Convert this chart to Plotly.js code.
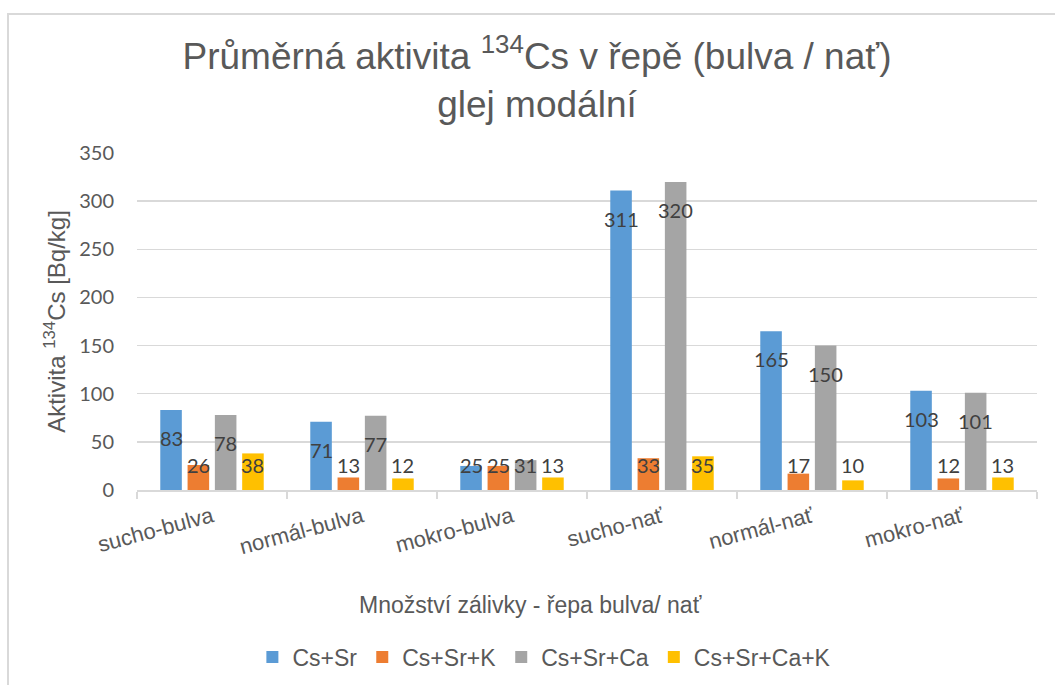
<!DOCTYPE html>
<html>
<head>
<meta charset="utf-8">
<script src="https://cdn.plot.ly/plotly-3.0.1.min.js"></script>
<style>
  html, body { margin: 0; padding: 0; background: #ffffff; }
  #chart { position: absolute; left: 0; top: 0; width: 1055px; height: 685px; }
  #frame { position: absolute; left: 7px; top: 13px; width: 1048px; height: 672px;
           border-top: 2px solid #D9D9D9; border-left: 2px solid #D9D9D9;
           box-sizing: border-box; pointer-events: none; }
</style>
</head>
<body>
<div id="chart"></div>
<div id="frame"></div>
<script>
// ---- data ----
const categories = ["sucho-bulva", "normál-bulva", "mokro-bulva", "sucho-nať", "normál-nať", "mokro-nať"];
const seriesNames = ["Cs+Sr", "Cs+Sr+K", "Cs+Sr+Ca", "Cs+Sr+Ca+K"];
const csSr     = [83, 71, 25, 311, 165, 103];
const csSrK    = [26, 13, 25, 33, 17, 12];
const csSrCa   = [78, 77, 31, 320, 150, 101];
const csSrCaK  = [38, 12, 13, 35, 10, 13];
const yTicks   = [0, 50, 100, 150, 200, 250, 300, 350];

const seriesValues = [csSr, csSrK, csSrCa, csSrCaK];
const colors = ["#5B9BD5", "#ED7D31", "#A5A5A5", "#FFC000"];

const ARIAL = "Liberation Sans, Arial, sans-serif";
const NUM = "Lato, Carlito, sans-serif";
const TXT = "#595959";

const bargap = 0.272, bargroupgap = 0.21;
const slot = (1 - bargap) / seriesValues.length;

const traces = seriesValues.map((vals, i) => ({
  type: "bar",
  name: seriesNames[i],
  x: categories,
  y: vals,
  marker: { color: colors[i] },
  hoverinfo: "x+y+name"
}));

// data labels, placed inside near the bar end (Excel style)
const annotations = [];
seriesValues.forEach((vals, i) => {
  vals.forEach((v, j) => {
    annotations.push({
      xref: "x", yref: "y",
      x: j + (i - (seriesValues.length - 1) / 2) * slot,
      y: Math.max(v, 55),
      yshift: -28,
      text: String(v),
      showarrow: false,
      xanchor: "center", yanchor: "middle",
      font: { family: NUM, size: 20, color: "#404040" }
    });
  });
});

// x axis title (offset like in the original)
annotations.push({
  xref: "paper", yref: "paper",
  x: 0.437, y: -0.341,
  xanchor: "center", yanchor: "middle",
  text: "Množství zálivky - řepa bulva/ nať",
  showarrow: false,
  font: { family: ARIAL, size: 23, color: TXT }
});

const layout = {
  width: 1055, height: 685,
  paper_bgcolor: "#ffffff", plot_bgcolor: "#ffffff",
  margin: { l: 137, r: 18, t: 153, b: 195 },
  barmode: "group",
  bargap: bargap,
  bargroupgap: bargroupgap,
  title: {
    text: "Průměrná aktivita <sup>134</sup>Cs v řepě (bulva / nať)<br>glej modální",
    font: { family: ARIAL, size: 37, color: TXT },
    xref: "container", x: 0.509, xanchor: "center",
    yref: "container", y: 1 - 69 / 685, yanchor: "middle"
  },
  xaxis: {
    type: "category",
    tickangle: -15,
    tickfont: { family: ARIAL, size: 22, color: TXT },
    ticks: "outside", tickson: "boundaries", ticklen: 7, tickcolor: "#D9D9D9", tickwidth: 1.5,
    ticklabelstandoff: 4,
    showline: true, linecolor: "#D9D9D9", linewidth: 1.5,
    showgrid: false, zeroline: false,
    automargin: false
  },
  yaxis: {
    range: [0, 350],
    tickvals: yTicks,
    ticktext: yTicks.map(String),
    tickfont: { family: NUM, size: 20, color: TXT },
    ticks: "", ticklabelstandoff: 22,
    showgrid: true, gridcolor: "#D9D9D9", gridwidth: 1.5,
    zeroline: false, showline: false,
    automargin: false,
    title: {
      text: "Aktivita <sup>134</sup>Cs [Bq/kg]",
      font: { family: ARIAL, size: 24, color: TXT },
      standoff: 6
    }
  },
  showlegend: true,
  legend: {
    orientation: "h",
    xref: "container", x: 0.516, xanchor: "center",
    yref: "container", y: 1 - 657 / 685, yanchor: "middle",
    font: { family: ARIAL, size: 23, color: TXT },
    itemwidth: 30, tracegroupgap: 0
  },
  annotations: annotations
};

Plotly.newPlot("chart", traces, layout, { displayModeBar: false, staticPlot: true });
</script>
</body>
</html>
